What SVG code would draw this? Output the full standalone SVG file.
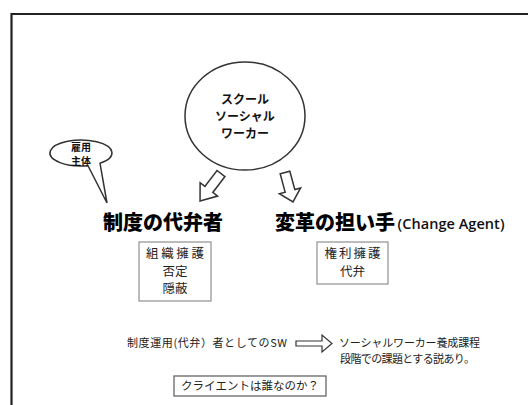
<svg xmlns="http://www.w3.org/2000/svg" width="528" height="405" viewBox="0 0 528 405">
<style>
text{font-family:"Noto Sans CJK JP","Noto Sans",sans-serif;fill:#111;text-anchor:middle}
.t{font-size:12px;font-weight:bold}
.h{font-size:20px;font-weight:900;fill:#000}
.b{font-size:12.5px;fill:#222}
.s{font-size:11px;fill:#222}
.box{fill:#fff;stroke:#999;stroke-width:1.3}
.ln{fill:#fff;stroke:#333;stroke-width:1.5}
</style>
<rect width="528" height="405" fill="#fff"/>
<path d="M11.5,405 V14 H528" fill="none" stroke="#222" stroke-width="2.2"/>
<g id="sw">
<ellipse class="ln" cx="245" cy="116" rx="60" ry="54"/>
<text class="t" x="245" y="104">スクール</text>
<text class="t" x="245" y="121">ソーシャル</text>
<text class="t" x="245" y="138">ワーカー</text>
</g>
<g id="bubble">
<path class="ln" d="M88,165.7 A31,13 0 1 1 100,163.3 L107,203 Z"/>
<text x="81" y="151" style="font-size:10px;font-weight:bold">雇用</text>
<text x="81" y="165" style="font-size:10px;font-weight:bold">主体</text>
</g>
<g id="connectors" class="ln" stroke-linejoin="miter">
<polygon transform="translate(221,173.5) rotate(127.4)" points="0,-5 20,-5 20,-11 34.5,0 20,11 20,5 0,5"/>
<polygon transform="translate(285,172.5) rotate(74.8)" points="0,-5 19,-5 19,-11 30.5,0 19,11 19,5 0,5"/>
<polygon points="296,341 322,341 322,335 332,343.5 322,352 322,346 296,346" stroke-width="1.2"/>
</g>
<g id="left">
<text class="h" x="163" y="230">制度の代弁者</text>
<rect class="box" x="139" y="242" width="72" height="59"/>
<text class="b" x="175" y="258" textLength="58">組織擁護</text>
<text class="b" x="175" y="275.5">否定</text>
<text class="b" x="175" y="293">隠蔽</text>
</g>
<g id="right">
<text class="h" x="335" y="230">変革の担い手</text>
<text x="451" y="229" style="font-size:14.5px;font-weight:600;font-family:'Open Sans','Noto Sans',sans-serif" textLength="107">(Change Agent)</text>
<rect class="box" x="317" y="242" width="71" height="42"/>
<text class="b" x="352.5" y="258" textLength="56">権利擁護</text>
<text class="b" x="352.5" y="276">代弁</text>
</g>
<g id="bottom">
<text class="s" x="207" y="347" textLength="160">制度運用(代弁）者としてのSW</text>
<text class="s" x="339" y="347" style="text-anchor:start" textLength="141">ソーシャルワーカー養成課程</text>
<text class="s" x="340" y="363" style="text-anchor:start" textLength="135">段階での課題とする説あり。</text>
</g>
<g id="client">
<rect class="box" x="174" y="376" width="152" height="20" style="stroke:#666"/>
<text class="s" x="250" y="390" style="font-size:11.5px" textLength="138">クライエントは誰なのか？</text>
</g>
</svg>
